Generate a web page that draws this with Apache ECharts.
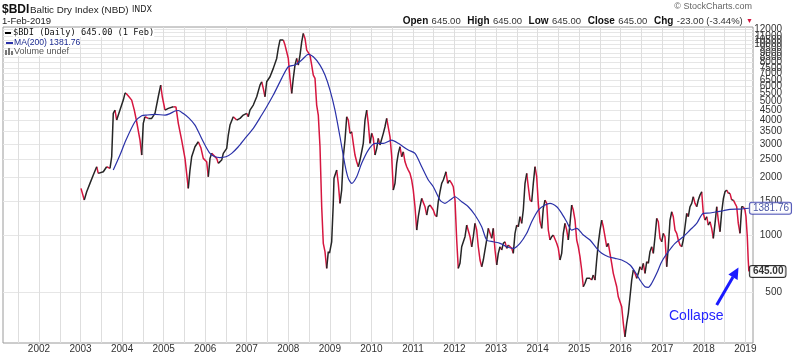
<!DOCTYPE html>
<html><head><meta charset="utf-8">
<script src="https://cdn.jsdelivr.net/npm/echarts@6/dist/echarts.min.js"></script>
<style>html,body{margin:0;padding:0;background:#fff}#c{width:800px;height:354px}</style>
</head><body><div id="c"></div>
<script>
// ---- DATA (decimal years, index values) ----
const priceDates = [2003.011,2003.090,2003.148,2003.227,2003.307,2003.389,2003.427,2003.548,2003.629,2003.709,2003.750,2003.788,2003.829,2003.870,2003.949,2004.029,2004.070,2004.094,2004.166,2004.231,2004.294,2004.351,2004.431,2004.472,2004.510,2004.551,2004.631,2004.712,2004.792,2004.871,2004.929,2004.968,2005.033,2005.112,2005.232,2005.297,2005.353,2005.434,2005.514,2005.593,2005.634,2005.675,2005.754,2005.834,2005.899,2005.954,2006.036,2006.075,2006.116,2006.156,2006.277,2006.315,2006.397,2006.436,2006.518,2006.556,2006.597,2006.676,2006.758,2006.838,2006.917,2006.999,2007.037,2007.078,2007.158,2007.240,2007.319,2007.360,2007.398,2007.439,2007.480,2007.560,2007.639,2007.721,2007.759,2007.800,2007.880,2007.921,2007.961,2008.000,2008.041,2008.082,2008.120,2008.161,2008.202,2008.241,2008.282,2008.323,2008.361,2008.402,2008.443,2008.481,2008.522,2008.563,2008.602,2008.643,2008.683,2008.722,2008.763,2008.804,2008.842,2008.883,2008.924,2008.963,2008.992,2009.044,2009.083,2009.100,2009.165,2009.203,2009.244,2009.285,2009.324,2009.365,2009.406,2009.444,2009.485,2009.526,2009.564,2009.605,2009.646,2009.685,2009.726,2009.766,2009.805,2009.846,2009.887,2009.925,2009.966,2010.007,2010.046,2010.087,2010.128,2010.166,2010.207,2010.248,2010.287,2010.327,2010.368,2010.407,2010.448,2010.489,2010.527,2010.568,2010.609,2010.648,2010.688,2010.729,2010.768,2010.809,2010.850,2010.888,2010.929,2010.970,2011.008,2011.049,2011.090,2011.129,2011.170,2011.211,2011.249,2011.290,2011.331,2011.370,2011.410,2011.451,2011.490,2011.531,2011.572,2011.610,2011.651,2011.692,2011.731,2011.771,2011.795,2011.836,2011.880,2011.932,2011.971,2012.012,2012.053,2012.091,2012.132,2012.173,2012.253,2012.294,2012.332,2012.373,2012.414,2012.453,2012.493,2012.534,2012.573,2012.614,2012.655,2012.693,2012.734,2012.775,2012.814,2012.854,2012.895,2012.934,2012.975,2013.016,2013.054,2013.095,2013.136,2013.175,2013.215,2013.256,2013.295,2013.336,2013.377,2013.415,2013.456,2013.497,2013.536,2013.576,2013.617,2013.656,2013.697,2013.738,2013.776,2013.817,2013.858,2013.897,2013.937,2013.978,2014.017,2014.058,2014.099,2014.137,2014.178,2014.219,2014.258,2014.298,2014.339,2014.378,2014.419,2014.460,2014.498,2014.539,2014.580,2014.619,2014.659,2014.700,2014.739,2014.780,2014.820,2014.859,2014.900,2014.941,2014.980,2015.020,2015.061,2015.100,2015.141,2015.182,2015.261,2015.302,2015.340,2015.381,2015.422,2015.461,2015.502,2015.543,2015.581,2015.622,2015.663,2015.702,2015.742,2015.783,2015.822,2015.863,2015.904,2015.942,2015.983,2016.024,2016.063,2016.103,2016.144,2016.183,2016.224,2016.265,2016.303,2016.344,2016.385,2016.424,2016.464,2016.505,2016.544,2016.585,2016.626,2016.665,2016.705,2016.746,2016.785,2016.826,2016.867,2016.905,2016.946,2016.987,2017.025,2017.066,2017.107,2017.146,2017.187,2017.228,2017.266,2017.307,2017.348,2017.386,2017.427,2017.468,2017.506,2017.548,2017.588,2017.627,2017.668,2017.709,2017.747,2017.788,2017.829,2017.868,2017.908,2017.949,2017.988,2018.029,2018.070,2018.108,2018.149,2018.190,2018.229,2018.270,2018.311,2018.349,2018.390,2018.431,2018.472,2018.510,2018.551,2018.592,2018.630,2018.671,2018.712,2018.751,2018.792,2018.830,2018.871,2018.912,2018.951,2018.991,2019.015,2019.047,2019.069,2019.085];
const priceValues = [1756,1525,1685,1865,2061,2279,2104,2145,2279,2235,2570,4338,4512,4000,4512,5090,5520,5520,5300,5090,4512,3920,3144,2624,3845,4164,4083,4083,4338,5300,6100,5300,4512,4606,4695,4680,3845,3144,2521,1756,2189,2570,2900,3080,2854,2521,2420,2020,2521,2678,2521,2374,2470,2678,2844,3340,3767,4164,4000,4083,4250,4338,4164,4512,4793,5300,6100,6348,5862,5300,6348,6744,7462,8416,9495,10494,10494,9880,9114,8416,6613,5520,6613,7765,8416,7765,8759,10280,11376,10711,9302,9114,8759,7765,6882,6613,4793,4250,2900,1407,905,818,669,818,805,922,1466,1981,2189,1865,1466,1720,2570,3144,4164,4000,3408,3475,3021,2624,2420,2279,2470,2730,3021,4000,4512,3845,3021,3408,3220,2624,2844,3208,2960,3021,3408,3690,4083,4000,3271,2570,1720,1865,2374,2678,2900,2570,2730,2420,2279,2189,2104,1941,1720,1407,1062,1247,1407,1556,1525,1407,1273,1407,1436,1407,1352,1273,1247,1500,1685,1865,1941,2061,2145,1865,1941,1865,1790,1525,942,669,711,868,980,1128,1105,980,868,980,1151,1062,868,740,682,740,835,942,1084,1062,961,1084,835,697,802,868,835,905,922,852,886,868,852,802,1021,1128,1105,1247,1151,1352,1865,2104,1790,1525,1494,1865,2279,2020,1466,1174,1084,1380,1525,1466,1062,942,980,1000,980,905,852,740,802,1021,1151,1062,942,1151,1436,1352,1198,942,868,770,656,536,559,593,593,581,617,581,740,905,1062,1198,1105,980,868,905,802,711,630,581,536,475,466,421,345,293,345,389,475,581,656,630,593,630,682,656,711,630,725,711,818,868,802,980,1223,1174,961,922,1021,980,682,868,1198,1324,1247,1062,1021,942,886,868,942,1105,1299,1247,1407,1466,1587,1466,1407,1525,1620,1685,1299,1198,1247,1128,1174,1084,961,1151,1407,1198,1041,1324,1556,1685,1720,1653,1653,1525,1525,1466,1407,1151,1021,1407,1407,1352,1247,980,740,645];
const maDates = [2003.788,2003.949,2004.094,2004.310,2004.472,2004.592,2004.792,2005.033,2005.153,2005.273,2005.353,2005.466,2005.610,2005.754,2005.875,2005.995,2006.116,2006.236,2006.356,2006.501,2006.638,2006.797,2006.958,2007.158,2007.360,2007.480,2007.639,2007.841,2008.000,2008.161,2008.323,2008.481,2008.602,2008.763,2008.883,2009.004,2009.124,2009.244,2009.365,2009.444,2009.526,2009.646,2009.766,2009.925,2010.087,2010.287,2010.489,2010.648,2010.888,2011.049,2011.211,2011.370,2011.490,2011.651,2011.771,2011.892,2012.012,2012.173,2012.332,2012.493,2012.655,2012.775,2012.934,2013.095,2013.256,2013.415,2013.576,2013.738,2013.858,2014.017,2014.178,2014.298,2014.460,2014.580,2014.700,2014.820,2014.941,2015.100,2015.261,2015.422,2015.543,2015.702,2015.863,2016.024,2016.224,2016.344,2016.464,2016.585,2016.665,2016.746,2016.867,2016.987,2017.146,2017.307,2017.506,2017.668,2017.829,2017.988,2018.149,2018.311,2018.470,2018.630,2018.871,2019.085];
const maValues = [2189,2624,3144,3920,4214,4250,4284,4250,4326,4460,4490,4338,4098,3767,3340,2960,2678,2570,2546,2570,2678,2900,3208,3620,4250,4695,5408,6613,7607,7765,8246,8834,8582,7765,6882,5743,4512,3271,2326,1981,1865,2020,2374,2786,3021,3021,3144,3021,2786,2678,2279,1941,1790,1525,1466,1525,1587,1494,1407,1273,1105,942,922,905,868,852,905,1021,1174,1352,1436,1466,1407,1299,1174,1062,1084,1000,942,852,802,770,755,740,697,642,581,536,532,559,630,725,818,905,980,1062,1151,1299,1304,1324,1340,1363,1368,1381.76];
const yearLabels = [2002,2003,2004,2005,2006,2007,2008,2009,2010,2011,2012,2013,2014,2015,2016,2017,2018,2019];
const priceTickLabels = [500,1000,1500,2000,2500,3000,3500,4000,4500,5000,5500,6000,6500,7000,7500,8000,8500,9000,9500,10000,10500,11000,11500,12000];

// ---- axis ranges ----
const X_MIN = 2001.134, X_MAX = 2019.184, Y_MIN = 272, Y_MAX = 12290;
const halfYears = [];
for (let y = 2001.5; y <= 2019.001; y += 0.5) halfYears.push(+y.toFixed(1));

const RED = '#d6163f', BLACK = '#262626', BLUE = '#2a31a8';

// split price line into up (black) and down (red) runs
const upData = [], downData = [];
(function () {
  const n = priceDates.length;
  let i = 0;
  while (i < n - 1) {
    const dir = priceValues[i + 1] >= priceValues[i];
    let j = i + 1;
    while (j < n - 1 && (priceValues[j + 1] >= priceValues[j]) === dir) j++;
    const tgt = dir ? upData : downData;
    for (let k = i; k <= j; k++) tgt.push([priceDates[k], priceValues[k]]);
    tgt.push([priceDates[j], null]);
    i = j;
  }
})();

const lastP = priceValues.length - 1, lastM = maValues.length - 1;

const chart = echarts.init(document.getElementById('c'), null, { renderer: 'canvas' });
const FONT = 'Liberation Sans, Arial, sans-serif';
const yTickPos = priceTickLabels.map(v => Math.log10(v));

chart.setOption({
  animation: false,
  backgroundColor: '#fff',
  grid: { left: 3, right: 47, top: 27, bottom: 11, show: true, borderColor: '#9a9a9a', borderWidth: 1, containLabel: false, outerBoundsMode: 'none' },
  xAxis: {
    type: 'value', min: X_MIN, max: X_MAX,
    axisLine: { show: false },
    axisTick: { show: false, customValues: halfYears },
    splitLine: { show: true, lineStyle: { color: '#dedede', width: 1 } },
    axisLabel: { customValues: yearLabels, formatter: v => String(Math.round(v)), fontSize: 10, color: '#333', fontFamily: FONT, margin: 1, showMinLabel: true, showMaxLabel: true, hideOverlap: false }
  },
  yAxis: [
    { type: 'log', min: Y_MIN, max: Y_MAX, position: 'left', show: false, splitLine: { show: false } },
    {
      type: 'value', position: 'right', min: Math.log10(Y_MIN), max: Math.log10(Y_MAX),
      axisLine: { show: false },
      axisTick: { show: false, customValues: yTickPos },
      splitLine: { show: true, lineStyle: { color: '#e6e6e6', width: 1 } },
      axisLabel: {
        customValues: yTickPos, showMinLabel: true, showMaxLabel: true, hideOverlap: false,
        formatter: v => String(Math.round(Math.pow(10, v) / 500) * 500),
        align: 'right', margin: 29, fontSize: 10, color: '#333', fontFamily: FONT
      }
    }
  ],
  series: [
    { name: 'down', type: 'line', yAxisIndex: 0, data: downData, showSymbol: false, connectNulls: false,
      lineStyle: { color: RED, width: 1.5 }, itemStyle: { color: RED }, z: 3, silent: true },
    { name: 'up', type: 'line', yAxisIndex: 0, data: upData, showSymbol: false, connectNulls: false,
      lineStyle: { color: BLACK, width: 1.5 }, itemStyle: { color: BLACK }, z: 3, silent: true },
    { name: 'MA(200)', type: 'line', yAxisIndex: 0, data: maDates.map((d, i) => [d, maValues[i]]),
      showSymbol: false, smooth: 0.25, lineStyle: { color: BLUE, width: 1.2 }, itemStyle: { color: BLUE }, z: 4, silent: true },
    { name: 'tags', type: 'scatter', yAxisIndex: 0, symbolSize: 0, z: 6, silent: true, clip: false,
      data: [
        { value: [maDates[lastM], maValues[lastM]], label: { color: '#1b2a8f', borderColor: BLUE, fontWeight: 'normal' } },
        { value: [priceDates[lastP], priceValues[lastP]], label: { color: '#000', borderColor: '#000', fontWeight: 'bold' } }
      ],
      label: { show: true, position: 'right', distance: 1, formatter: p => p.value[1].toFixed(2),
        fontSize: 10, fontFamily: FONT, backgroundColor: '#fff', borderWidth: 1, borderRadius: 2, padding: [1, 2, 0, 3] } }
  ],
  graphic: [
    { type: 'text', left: 2, top: 4, style: { text: '$BDI', font: 'bold 12px ' + FONT, fill: '#111' } },
    { type: 'text', left: 30, top: 5, style: { text: 'Baltic Dry Index (NBD)', font: '9.8px ' + FONT, fill: '#222' } },
    { type: 'text', left: 132, top: 6, style: { text: 'INDX', font: '8px DejaVu Sans, sans-serif', fill: '#222' } },
    { type: 'text', left: 2, top: 16, style: { text: '1-Feb-2019', font: '9.5px ' + FONT, fill: '#222' } },
    { type: 'text', right: 48, top: 2, style: { text: '\u00a9 StockCharts.com', font: '9px ' + FONT, fill: '#666' } },
    { type: 'text', right: 47, top: 15, style: {
        text: '{b|Open} {n|645.00}  {b|High} {n|645.00}  {b|Low} {n|645.00}  {b|Close} {n|645.00}  {b|Chg} {n|-23.00 (-3.44%)} {t|\u25BC}',
        rich: { b: { font: 'bold 10px ' + FONT, fill: '#111' }, n: { font: '9.5px ' + FONT, fill: '#333' }, t: { font: '7px ' + FONT, fill: '#d6163f' } } } },
    // in-plot legend
    { type: 'line', shape: { x1: 5, y1: 33, x2: 11, y2: 33 }, style: { stroke: '#000', lineWidth: 2 }, z: 10 },
    { type: 'text', left: 13, top: 28, z: 10, style: { text: '$BDI (Daily) 645.00 (1 Feb)', font: '8.7px DejaVu Sans Mono, monospace', fill: '#111', backgroundColor: '#fff' } },
    { type: 'line', shape: { x1: 6, y1: 43, x2: 13, y2: 43 }, style: { stroke: BLUE, lineWidth: 2 }, z: 10 },
    { type: 'text', left: 14, top: 38, z: 10, style: { text: 'MA(200) 1381.76', font: '8.6px ' + FONT, fill: '#1b2a8f', backgroundColor: '#fff' } },
    { type: 'rect', shape: { x: 5, y: 50, width: 2, height: 5 }, style: { fill: '#777' }, z: 10 },
    { type: 'rect', shape: { x: 8, y: 48, width: 2, height: 7 }, style: { fill: '#777' }, z: 10 },
    { type: 'rect', shape: { x: 11, y: 51, width: 2, height: 4 }, style: { fill: '#777' }, z: 10 },
    { type: 'text', left: 14, top: 47, z: 10, style: { text: 'Volume undef', font: '9px ' + FONT, fill: '#555', backgroundColor: '#fff' } },
    // annotation
    { type: 'text', left: 669, top: 309, z: 10, style: { text: 'Collapse', font: '14px ' + FONT, fill: '#2424ff' } },
    { type: 'line', shape: { x1: 716.7, y1: 305, x2: 733, y2: 277 }, style: { stroke: '#1a1aff', lineWidth: 3 }, z: 10 },
    { type: 'polygon', shape: { points: [[738.5, 267.5], [737.6, 280], [728.4, 274.6]] }, style: { fill: '#1a1aff' }, z: 10 }
  ]
});
</script></body></html>
